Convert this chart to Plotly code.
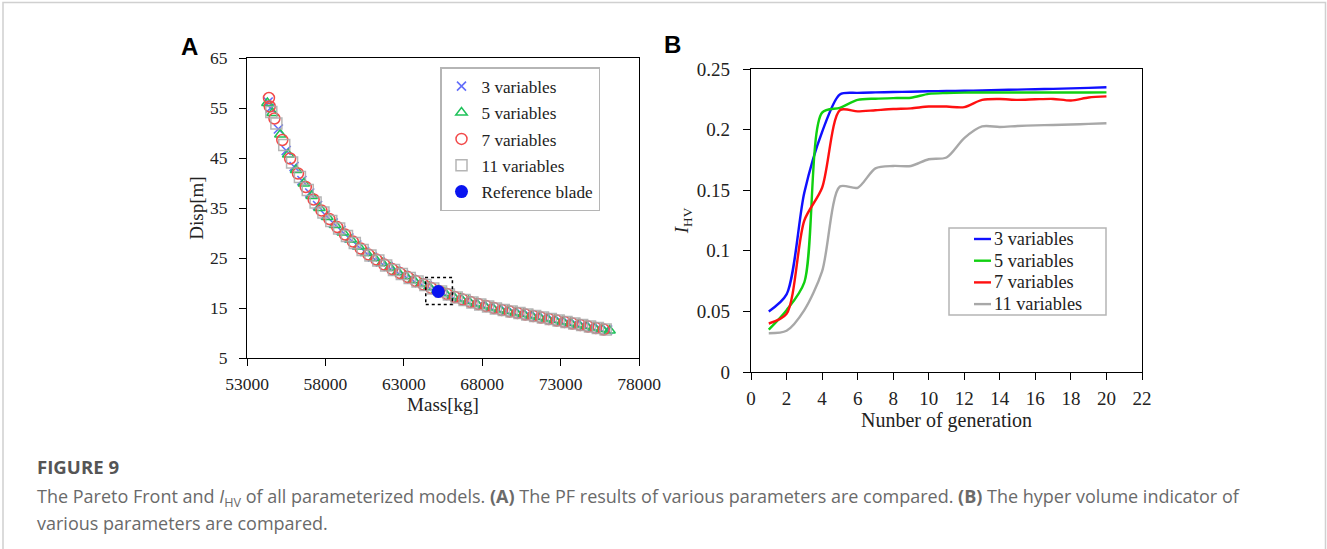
import plotly.graph_objects as go

# ---------------- Panel A: Pareto fronts (Mass vs. Disp) ----------------
mass_3var = [54350, 54500, 55000, 55500, 56000, 56500, 57000, 57500, 58000, 58500,
             59000, 59500, 60000, 60500, 61000, 61500, 62000, 62500, 63000, 63500,
             64000, 64500, 65000, 65500, 66000, 66500, 67000, 67500, 68000, 68500,
             69000, 69500, 70000, 70500, 71000, 71500, 72000, 72500, 73000, 73500,
             74000, 74500, 75000, 75500, 76000]
disp_3var = [56.2, 55.0, 50.8, 46.5, 43.3, 40.5, 38.0, 35.5, 33.6, 32.0,
             30.5, 29.0, 27.6, 26.3, 25.2, 24.2, 23.3, 22.4, 21.6, 20.8,
             20.1, 19.4, 18.7, 18.1, 17.5, 17.0, 16.5, 16.0, 15.6, 15.2,
             14.8, 14.5, 14.2, 13.9, 13.6, 13.3, 13.0, 12.7, 12.4, 12.1,
             11.8, 11.5, 11.2, 10.9, 10.6]

mass_5var = [54300, 54625, 55125, 55625, 56125, 56625, 57125, 57625, 58125, 58625,
             59125, 59625, 60125, 60625, 61125, 61625, 62125, 62625, 63125, 63625,
             64125, 64625, 65125, 65625, 66125, 66625, 67125, 67625, 68125, 68625,
             69125, 69625, 70125, 70625, 71125, 71625, 72125, 72625, 73125, 73625,
             74125, 74625, 75125, 75625, 76125]
disp_5var = [56.0, 54.0, 49.7, 45.7, 42.6, 39.9, 37.4, 35.0, 33.2, 31.6,
             30.1, 28.7, 27.3, 26.0, 25.0, 24.0, 23.1, 22.2, 21.4, 20.6,
             19.9, 19.2, 18.5, 18.0, 17.4, 16.9, 16.4, 15.9, 15.5, 15.1,
             14.7, 14.4, 14.1, 13.8, 13.5, 13.2, 12.9, 12.6, 12.3, 12.0,
             11.7, 11.4, 11.1, 10.8, 10.5]

mass_7var = [54400, 54450, 54750, 55250, 55750, 56250, 56750, 57250, 57750, 58250,
             58750, 59250, 59750, 60250, 60750, 61250, 61750, 62250, 62750, 63250,
             63750, 64250, 64750, 65250, 65750, 66250, 66750, 67250, 67750, 68250,
             68750, 69250, 69750, 70250, 70750, 71250, 71750, 72250, 72750, 73250,
             73750, 74250, 74750, 75250, 75750]
disp_7var = [57.0, 55.3, 52.9, 48.6, 44.9, 41.9, 39.2, 36.7, 34.5, 32.8,
             31.2, 29.7, 28.3, 26.9, 25.7, 24.7, 23.7, 22.8, 22.0, 21.2,
             20.4, 19.7, 19.0, 18.4, 17.8, 17.2, 16.7, 16.2, 15.8, 15.4,
             15.0, 14.6, 14.3, 14.0, 13.7, 13.4, 13.1, 12.8, 12.5, 12.2,
             11.9, 11.6, 11.3, 11.0, 10.7]

mass_11var = [54550, 54875, 55375, 55875, 56375, 56875, 57375, 57875, 58375, 58875,
              59375, 59875, 60375, 60875, 61375, 61875, 62375, 62875, 63375, 63875,
              64375, 64875, 65375, 65875, 66375, 66875, 67375, 67875, 68375, 68875,
              69375, 69875, 70375, 70875, 71375, 71875, 72375, 72875, 73375, 73875,
              74375, 74875, 75375, 75875]
disp_11var = [54.2, 51.9, 47.6, 44.1, 41.2, 38.6, 36.1, 34.1, 32.4, 30.9,
              29.4, 28.0, 26.6, 25.5, 24.5, 23.5, 22.6, 21.8, 21.0, 20.3,
              19.6, 18.9, 18.3, 17.7, 17.1, 16.6, 16.1, 15.7, 15.3, 14.9,
              14.6, 14.3, 14.0, 13.7, 13.4, 13.1, 12.8, 12.5, 12.2, 11.9,
              11.6, 11.3, 11.0, 10.7]

ref_mass = [65200]
ref_disp = [18.3]

# ---------------- Panel B: hypervolume indicator per generation ----------------
generations = [1, 2, 3, 4, 5, 6, 7, 8, 9, 10, 11, 12, 13, 14, 15, 16, 17, 18, 19, 20]
hv_3var = [0.050, 0.064, 0.148, 0.198, 0.229, 0.2303, 0.2307, 0.2310, 0.2312, 0.2316,
           0.2318, 0.2320, 0.2323, 0.2327, 0.2330, 0.2333, 0.2336, 0.2340, 0.2344, 0.2350]
hv_5var = [0.035, 0.051, 0.074, 0.214, 0.218, 0.2245, 0.2255, 0.2260, 0.2263, 0.2295,
           0.2302, 0.2305, 0.2306, 0.2306, 0.2306, 0.2306, 0.2306, 0.2306, 0.2306, 0.2307]
hv_7var = [0.040, 0.048, 0.125, 0.152, 0.2160, 0.2150, 0.2160, 0.2170, 0.2175, 0.2190,
           0.2190, 0.2185, 0.2245, 0.2252, 0.2245, 0.2250, 0.2253, 0.2240, 0.2265, 0.2274]
hv_11var = [0.032, 0.034, 0.051, 0.083, 0.153, 0.152, 0.168, 0.170, 0.170, 0.1755,
            0.177, 0.193, 0.2026, 0.2022, 0.2030, 0.2035, 0.2038, 0.2042, 0.2047, 0.2053]

SERIF = "Liberation Serif"
W, H = 1327, 549
TXT = "#222222"

fig = go.Figure()

# Pareto-front scatter traces (one legend group each, so tracegroupgap spaces the rows)
pf_series = [
    ("3 variables", mass_3var, disp_3var,
     dict(symbol="x-thin-open", size=9, line=dict(color="#4b4bf2", width=1.6)), 1.0),
    ("5 variables", mass_5var, disp_5var,
     dict(symbol="triangle-up-open", size=10, color="#1fc25a", line=dict(width=1.5)), 1.0),
    ("7 variables", mass_7var, disp_7var,
     dict(symbol="circle-open", size=11, color="#f24a4a", line=dict(width=1.5)), 1.0),
    ("11 variables", mass_11var, disp_11var,
     dict(symbol="square-open", size=11, color="#a9a9a9", line=dict(width=1.5)), 0.85),
    ("Reference blade", ref_mass, ref_disp,
     dict(symbol="circle", size=13, color="#0a14f0"), 1.0),
]
for name, xs, ys, mk, op in pf_series:
    fig.add_trace(go.Scatter(x=xs, y=ys, mode="markers", name=name, marker=mk,
                             opacity=op, legend="legend", legendgroup=name,
                             xaxis="x", yaxis="y"))

# Hypervolume curves
hv_series = [("3 variables", hv_3var, "#1010ff"),
             ("5 variables", hv_5var, "#10d010"),
             ("7 variables", hv_7var, "#ff1010"),
             ("11 variables", hv_11var, "#a8a8a8")]
for name, vals, col in hv_series:
    fig.add_trace(go.Scatter(
        x=generations, y=vals, mode="lines", name=name, showlegend=False,
        line=dict(color=col, width=2.4, shape="spline", smoothing=0.8),
        xaxis="x2", yaxis="y2"))


def axis_style(tick_size, title_size):
    return dict(
        automargin=False,
        showline=True, linecolor="black", linewidth=1.2, mirror=True,
        ticks="outside", ticklen=7, tickwidth=1.1, tickcolor="black",
        showgrid=False, zeroline=False,
        tickfont=dict(family=SERIF, size=tick_size, color=TXT),
        title_font=dict(family=SERIF, size=title_size, color=TXT),
    )


fig.update_layout(
    width=W, height=H,
    margin=dict(l=0, r=0, t=0, b=0, autoexpand=False),
    paper_bgcolor="white", plot_bgcolor="white",
    xaxis=dict(domain=[247 / W, 639 / W], anchor="y", range=[53000, 78000],
               dtick=5000, tick0=53000, tickformat="d",
               title=dict(text="Mass[kg]", standoff=1), ticklabelstandoff=3,
               **axis_style(17.5, 19)),
    yaxis=dict(domain=[1 - 358 / H, 1 - 58 / H], anchor="x", range=[5, 65],
               dtick=10, tick0=5,
               title=dict(text="Disp[m]", standoff=1), ticklabelstandoff=8,
               **axis_style(17.5, 19)),
    xaxis2=dict(domain=[751 / W, 1142 / W], anchor="y2", range=[0, 22], dtick=2,
                title=dict(text="Nunber of generation", standoff=0), ticklabelstandoff=2,
                **axis_style(19, 20)),
    yaxis2=dict(domain=[1 - 372 / H, 1 - 69 / H], anchor="x2", range=[0, 0.25],
                dtick=0.05,
                title=dict(text="<i>I</i><sub>HV</sub>", standoff=3), ticklabelstandoff=9,
                **axis_style(19, 19)),
    legend=dict(x=440 / W, y=1 - 67 / H, xanchor="left", yanchor="top",
                bgcolor="white", bordercolor="#b5b5b5", borderwidth=1.5,
                font=dict(family=SERIF, size=17.2, color=TXT),
                tracegroupgap=1),
)

# Dotted frame around the reference blade
fig.add_shape(type="rect", xref="x", yref="y",
              x0=ref_mass[0] - 800, x1=ref_mass[0] + 900,
              y0=ref_disp[0] - 2.6, y1=ref_disp[0] + 2.8,
              line=dict(color="black", width=1.5, dash="dot"))

# Legend box for panel B: short line swatches with series names
LEG_L, LEG_T, LEG_R, LEG_B = 949, 228, 1106, 315
ROW0, ROW_STEP = 239, 21.7
fig.add_shape(type="rect", xref="paper", yref="paper",
              x0=LEG_L / W, x1=LEG_R / W, y0=1 - LEG_B / H, y1=1 - LEG_T / H,
              line=dict(color="#b5b5b5", width=1.5), fillcolor="white", layer="above")
for i, (name, vals, col) in enumerate(hv_series):
    yy = 1 - (ROW0 + i * ROW_STEP) / H
    fig.add_shape(type="line", xref="paper", yref="paper",
                  x0=(LEG_L + 25) / W, x1=(LEG_L + 42) / W, y0=yy, y1=yy,
                  line=dict(color=col, width=2.4), layer="above")
    fig.add_annotation(text=name, xref="paper", yref="paper",
                       x=(LEG_L + 42.5) / W, y=yy, xanchor="left", yanchor="middle",
                       showarrow=False, font=dict(family=SERIF, size=18.3, color=TXT))

# Light outer frame of the figure
fig.add_shape(type="rect", xref="paper", yref="paper",
              x0=3 / W, x1=1325.5 / W, y0=-0.2, y1=1 - 2.5 / H,
              line=dict(color="#d0d0d0", width=1.5))

# Panel letters
for letter, px, py in [("A", 189, 46), ("B", 672, 45)]:
    fig.add_annotation(text=f"<b>{letter}</b>", xref="paper", yref="paper",
                       x=px / W, y=1 - py / H, xanchor="center", yanchor="middle",
                       showarrow=False,
                       font=dict(family="Liberation Sans", size=24, color="black"))

# Figure caption
CAP = "Open Sans"
caption_lines = [
    ("The Pareto Front and <i>I</i><sub>HV</sub> of all parameterized models. "
     "<b>(A)</b> The PF results of various parameters are compared. "
     "<b>(B)</b> The hyper volume indicator of", 497),
    ("various parameters are compared.", 523),
]
fig.add_annotation(text="<b>FIGURE 9</b>", xref="paper", yref="paper",
                   x=35 / W, y=1 - 466 / H, xanchor="left", yanchor="middle",
                   showarrow=False, font=dict(family=CAP, size=18.6, color="#555555"))
for line_text, py in caption_lines:
    fig.add_annotation(text=line_text, xref="paper", yref="paper",
                       x=35 / W, y=1 - py / H, xanchor="left", yanchor="middle",
                       showarrow=False,
                       font=dict(family=CAP, size=18.0, color="#6a6a6a"))

fig.write_html("out.html")
